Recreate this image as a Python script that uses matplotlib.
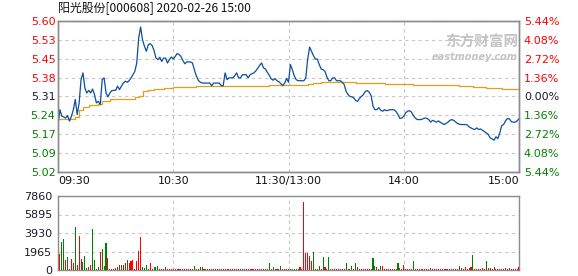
import matplotlib
matplotlib.use("Agg")
import matplotlib.pyplot as plt

# minute-by-minute price (09:30 .. 11:30 / 13:00 .. 15:00, 241 points)
price = [
    5.202, 5.259, 5.234, 5.231, 5.227, 5.236, 5.215, 5.234, 5.259, 5.298,
    5.240, 5.285, 5.374, 5.400, 5.342, 5.323, 5.333, 5.323, 5.338, 5.317,
    5.285, 5.291, 5.278, 5.374, 5.381, 5.323, 5.308, 5.323, 5.332, 5.333,
    5.333, 5.349, 5.336, 5.349, 5.361, 5.368, 5.364, 5.370, 5.381, 5.393,
    5.406, 5.438, 5.534, 5.576, 5.527, 5.502, 5.483, 5.508, 5.512, 5.505,
    5.486, 5.457, 5.451, 5.460, 5.444, 5.457, 5.457, 5.438, 5.451, 5.461,
    5.453, 5.463, 5.474, 5.471, 5.463, 5.448, 5.435, 5.442, 5.442, 5.442,
    5.438, 5.412, 5.389, 5.372, 5.365, 5.361, 5.361, 5.361, 5.361, 5.361,
    5.351, 5.361, 5.361, 5.361, 5.361, 5.351, 5.351, 5.400, 5.374, 5.381,
    5.381, 5.381, 5.389, 5.400, 5.381, 5.381, 5.393, 5.393, 5.393, 5.381,
    5.393, 5.397, 5.400, 5.408, 5.418, 5.429, 5.438, 5.419, 5.415, 5.402,
    5.391, 5.377, 5.372, 5.378, 5.370, 5.366, 5.359, 5.351, 5.361, 5.379,
    5.364, 5.432, 5.412, 5.389, 5.374, 5.370, 5.370, 5.370, 5.370, 5.381,
    5.453, 5.499, 5.483, 5.466, 5.453, 5.453, 5.432, 5.415, 5.412, 5.406,
    5.384, 5.370, 5.370, 5.381, 5.381, 5.370, 5.370, 5.370, 5.364, 5.355,
    5.329, 5.317, 5.310, 5.308, 5.304, 5.294, 5.291, 5.303, 5.310, 5.317,
    5.329, 5.332, 5.326, 5.313, 5.272, 5.259, 5.259, 5.267, 5.257, 5.253,
    5.259, 5.255, 5.257, 5.259, 5.259, 5.258, 5.252, 5.240, 5.225, 5.227,
    5.234, 5.247, 5.253, 5.255, 5.250, 5.236, 5.227, 5.221, 5.221, 5.221,
    5.224, 5.227, 5.226, 5.221, 5.211, 5.218, 5.215, 5.211, 5.216, 5.211,
    5.206, 5.202, 5.206, 5.211, 5.218, 5.221, 5.218, 5.212, 5.206, 5.203,
    5.202, 5.202, 5.202, 5.201, 5.193, 5.189, 5.185, 5.183, 5.189, 5.183,
    5.185, 5.180, 5.175, 5.170, 5.164, 5.151, 5.147, 5.142, 5.155, 5.148,
    5.170, 5.198, 5.202, 5.216, 5.225, 5.224, 5.213, 5.211, 5.211, 5.216,
    5.224,
]

# average price line (changes at these minutes)
avg_minutes = [0, 9, 11, 13, 16, 21, 23, 24, 27, 35, 40, 42, 44, 47, 50,
               55, 60, 72, 110, 130, 133, 137, 155, 170, 185, 209, 216, 223, 231, 240]
avg_values = [5.224, 5.230, 5.259, 5.270, 5.275, 5.282, 5.291, 5.294, 5.298, 5.301,
              5.307, 5.310, 5.332, 5.336, 5.338, 5.342, 5.345, 5.349, 5.354, 5.358,
              5.361, 5.366, 5.363, 5.358, 5.354, 5.351, 5.346, 5.342, 5.338, 5.338]

volume = [
    0, 1700, 2970, 3260, 1060, 1350, 100, 1170, 740, 4570,
    530, 3610, 1170, 885, 1490, 250, 350, 530, 4350, 1060,
    100, 350, 1910, 2230, 420, 2870, 1270, 110, 110, 110,
    180, 350, 530, 530, 530, 780, 1060, 780, 955, 1060,
    100, 955, 2020, 3500, 280, 210, 530, 100, 740, 100,
    280, 280, 420, 100, 100, 100, 280, 100, 100, 100,
    100, 100, 100, 100, 100, 100, 100, 100, 100, 100,
    100, 420, 100, 100, 280, 280, 100, 100, 100, 100,
    100, 100, 100, 100, 100, 100, 100, 100, 100, 100,
    100, 100, 100, 100, 100, 100, 100, 100, 100, 100,
    100, 100, 100, 100, 100, 100, 100, 100, 100, 100,
    710, 100, 280, 100, 100, 100, 420, 100, 100, 100,
    140, 100, 100, 100, 100, 100, 280, 100, 7220, 1840,
    1840, 1490, 955, 1950, 100, 100, 420, 100, 1380, 280,
    100, 1380, 100, 100, 100, 100, 100, 100, 100, 100,
    740, 100, 100, 420, 100, 740, 280, 100, 100, 100,
    100, 100, 100, 100, 1270, 420, 280, 100, 420, 420,
    100, 100, 100, 100, 100, 100, 100, 740, 210, 100,
    530, 100, 100, 100, 100, 955, 100, 100, 100, 100,
    100, 100, 100, 100, 210, 100, 100, 100, 100, 100,
    100, 100, 100, 100, 100, 100, 100, 100, 100, 420,
    210, 100, 280, 100, 210, 280, 1590, 100, 100, 100,
    100, 210, 100, 955, 210, 210, 100, 280, 100, 100,
    100, 100, 100, 210, 100, 210, 100, 100, 100, 100,
    280,
]
# r = up minute, g = down minute (20 minutes per row)
vol_dir = "".join([
    "rrggrgrrrgrrrggrgrgg",
    "rgrgggrrrrrgrgrrgrrr",
    "rrrrgggrrrgggrrrgrrr",
    "rrrrrrrrrrrgrrggrrrr",
    "rrrrrrgrrrrrrrrrgrrr",
    "rrrrrrrrrrgrgrrrgrrr",
    "rgggggrrrrrrrgrrgrgr",
    "rgrrrrrrrrgrrgrgrrrr",
    "rrrrggrrgrrrrrgrrggr",
    "rrrrrgrrrrrrrrgrrrrr",
    "rrrrrrrrrgrrrrgrgrrr",
    "rrrgrrrgrrrrrrrrgrrrr",
])

price_ticks = [5.02, 5.0922, 5.1644, 5.2367, 5.31, 5.3822, 5.4544, 5.5267, 5.599]
price_labels = ["5.02", "5.09", "5.17", "5.24", "5.31", "5.38", "5.45", "5.53", "5.60"]
pct_labels = ["5.44%", "4.08%", "2.72%", "1.36%", "0.00%", "1.36%", "2.72%", "4.08%", "5.44%"]
vol_ticks = [0, 1965, 3930, 5895, 7860]
time_ticks = [0, 60, 120, 180, 240]
time_labels = ["09:30", "10:30", "11:30/13:00", "14:00", "15:00"]

RED = "#ff0000"
GREEN = "#008000"
DARK = "#1a1a2a"
GRID = "#c8c8c8"
SPINE = "#8c8c8c"

plt.rcParams["font.family"] = ["DejaVu Sans"]

fig = plt.figure(figsize=(5.78, 2.76), dpi=100)
ax = fig.add_axes([58 / 578, 1 - 172 / 276, 461 / 578, 151 / 276])
axv = fig.add_axes([58 / 578, 1 - 270 / 276, 461 / 578, 74 / 276])

minutes = list(range(len(price)))

# price panel
ax.plot(minutes, price, color="#0b4f9e", lw=0.9, zorder=3)
ax.plot(avg_minutes, avg_values, color="#dca11d", lw=0.9, drawstyle="steps-post", zorder=2)
ax.set_xlim(0, 240)
ax.set_ylim(5.021, 5.599)
ax.set_yticks(price_ticks)
ax.set_yticklabels(price_labels)
ax.set_xticks(time_ticks)
ax.set_xticklabels(time_labels)
ax.tick_params(axis="y", length=0, pad=1.8, labelsize=8)
ax.tick_params(axis="x", length=0, pad=3, labelsize=8, colors="#111111")
xl = ax.get_xticklabels()
xl[0].set_ha("left")
xl[-1].set_ha("right")
for i, lab in enumerate(ax.get_yticklabels()):
    lab.set_color(GREEN if i < 4 else (DARK if i == 4 else RED))
ax.grid(True, color=GRID, ls=(0, (3, 3)), lw=0.8)

ax2 = ax.twinx()
ax2.set_ylim(ax.get_ylim())
ax2.set_yticks(price_ticks)
ax2.set_yticklabels(pct_labels)
ax2.tick_params(axis="y", length=0, pad=3.5, labelsize=8)
for i, lab in enumerate(ax2.get_yticklabels()):
    lab.set_color(GREEN if i < 4 else (DARK if i == 4 else RED))

for a in (ax, ax2, axv):
    for s in a.spines.values():
        s.set_color(SPINE)
        s.set_linewidth(1.0)

# watermark
ax.text(0.998, 0.865, "东方财富网", transform=ax.transAxes, ha="right", va="center",
        fontsize=10.5, fontweight="bold", color="#c4c4c4",
        family=["Noto Sans CJK SC", "DejaVu Sans"], zorder=1)
ax.text(0.998, 0.76, "eastmoney.com", transform=ax.transAxes, ha="right", va="center",
        fontsize=7, fontweight="bold", style="italic", color="#c4c4c4", zorder=1)

# volume panel
bar_colors = [RED if c == "r" else GREEN for c in vol_dir]
axv.bar(range(len(volume)), volume, width=0.55, color=bar_colors, zorder=3)
axv.set_xlim(0, 240)
axv.set_ylim(0, 7860)
axv.set_yticks(vol_ticks)
axv.set_yticklabels([str(v) for v in vol_ticks])
axv.set_xticks(time_ticks)
axv.set_xticklabels([])
axv.tick_params(axis="y", length=0, pad=4, labelsize=8, colors=DARK)
axv.tick_params(axis="x", length=0)
axv.grid(True, color=GRID, ls=(0, (3, 3)), lw=0.8)

fig.text(58 / 578, 1 - 9 / 276, "阳光股份[000608] 2020-02-26 15:00", va="center", ha="left",
         fontsize=8.6, color="#111111", family=["Noto Sans CJK SC", "DejaVu Sans"])

fig.savefig("out.png", dpi=100)
